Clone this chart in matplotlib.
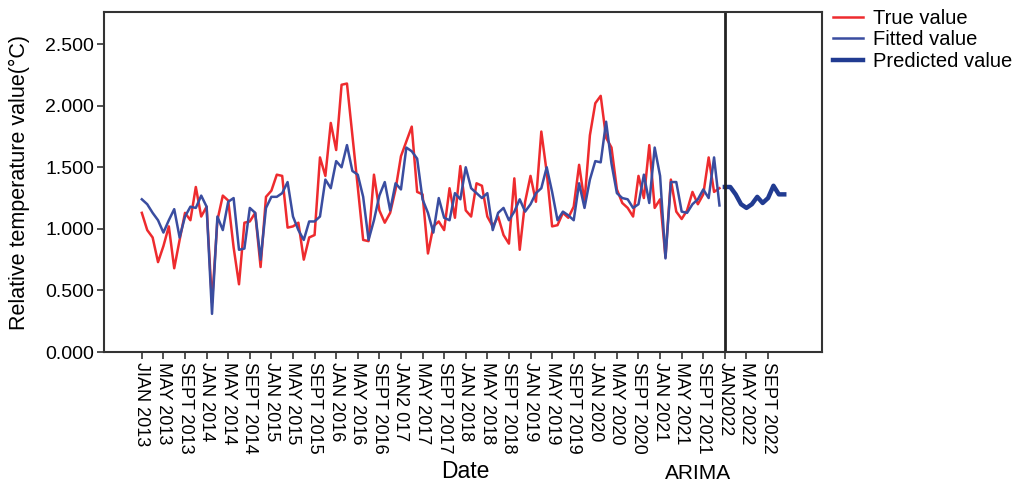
import numpy as np
import matplotlib
matplotlib.use("Agg")
import matplotlib.pyplot as plt

plt.rcParams['font.family'] = ['Liberation Sans', 'DejaVu Sans']

# monthly values, Jan 2013 .. Dec 2021
true_vals = [1.13, 0.99, 0.93, 0.73, 0.86, 1.02, 0.68, 0.91, 1.13, 1.07, 1.34, 1.10,
             1.18, 0.40, 1.07, 1.27, 1.23, 0.85, 0.55, 1.05, 1.06, 1.13, 0.69, 1.26,
             1.31, 1.44, 1.43, 1.01, 1.02, 1.05, 0.75, 0.93, 0.95, 1.58, 1.43, 1.86,
             1.64, 2.17, 2.18, 1.76, 1.34, 0.91, 0.90, 1.44, 1.15, 1.05, 1.13, 1.32,
             1.59, 1.71, 1.83, 1.30, 1.28, 0.80, 1.02, 1.06, 0.99, 1.33, 1.09, 1.51,
             1.15, 1.10, 1.37, 1.35, 1.10, 1.02, 1.10, 0.95, 0.88, 1.41, 0.83, 1.22,
             1.43, 1.22, 1.79, 1.46, 1.02, 1.03, 1.13, 1.09, 1.18, 1.52, 1.22, 1.76,
             2.02, 2.08, 1.74, 1.66, 1.32, 1.21, 1.17, 1.10, 1.43, 1.25, 1.68, 1.17,
             1.24, 0.77, 1.40, 1.14, 1.08, 1.15, 1.30, 1.20, 1.28, 1.58, 1.30, 1.33]

fitted_vals = [1.24, 1.20, 1.13, 1.07, 0.97, 1.07, 1.16, 0.93, 1.10, 1.18, 1.17, 1.27,
               1.18, 0.31, 1.10, 0.99, 1.22, 1.25, 0.83, 0.84, 1.17, 1.13, 0.75, 1.17,
               1.26, 1.26, 1.29, 1.38, 1.10, 0.99, 0.91, 1.06, 1.06, 1.10, 1.40, 1.33,
               1.55, 1.50, 1.68, 1.47, 1.44, 1.26, 0.91, 1.07, 1.27, 1.38, 1.15, 1.37,
               1.32, 1.66, 1.63, 1.57, 1.24, 1.13, 0.97, 1.25, 1.09, 1.07, 1.29, 1.24,
               1.50, 1.33, 1.29, 1.25, 1.29, 0.99, 1.13, 1.17, 1.07, 1.14, 1.24, 1.14,
               1.20, 1.29, 1.33, 1.50, 1.30, 1.07, 1.14, 1.11, 1.07, 1.37, 1.17, 1.40,
               1.55, 1.54, 1.87, 1.53, 1.29, 1.25, 1.24, 1.17, 1.20, 1.44, 1.21, 1.66,
               1.43, 0.76, 1.38, 1.38, 1.14, 1.13, 1.20, 1.24, 1.32, 1.25, 1.58, 1.19]

# ARIMA forecast, Jan 2022 .. Dec 2022
pred_vals = [1.34, 1.34, 1.28, 1.20, 1.17, 1.20, 1.26, 1.21, 1.25, 1.35, 1.28, 1.28]

tick_labels = ['JIAN 2013', 'MAY 2013', 'SEPT 2013', 'JAN 2014', 'MAY 2014', 'SEPT 2014',
               'JAN 2015', 'MAY 2015', 'SEPT 2015', 'JAN 2016', 'MAY 2016', 'SEPT 2016',
               'JAN2 017', 'MAY 2017', 'SEPT 2017', 'JAN 2018', 'MAY 2018', 'SEPT 2018',
               'JAN 2019', 'MAY 2019', 'SEPT 2019', 'JAN 2020', 'MAY 2020', 'SEPT 2020',
               'JAN 2021', 'MAY 2021', 'SEPT 2021', 'JAN2022', 'MAY 2022', 'SEPT 2022']

months_hist = np.arange(len(true_vals))
months_pred = np.arange(len(true_vals), len(true_vals) + len(pred_vals))

fig = plt.figure(figsize=(10.18, 4.84), dpi=100)
ax = fig.add_axes([0.1022, 0.2727, 0.7053, 0.7023])

ax.plot(months_hist, true_vals, color='#ee2b2e', lw=1.8, label='True value')
ax.plot(months_hist, fitted_vals, color='#3a4da0', lw=1.8, label='Fitted value')
ax.plot(months_pred, pred_vals, color='#213b91', lw=3.2, label='Predicted value')

ax.axvline(len(true_vals), color='#222222', lw=2.0)

ax.set_xlim(-7, 126)
ax.set_ylim(0, 2.76)
ax.set_yticks(np.arange(0, 2.51, 0.5))
ax.set_yticklabels(['%.3f' % v for v in np.arange(0, 2.51, 0.5)], fontsize=14)
ax.set_xticks(np.arange(0, 4 * len(tick_labels), 4))
ax.set_xticklabels(tick_labels, rotation=270, fontsize=13, ha='center', va='top')
ax.tick_params(direction='out', length=5, width=1.2, color='#333333', pad=2)

for s in ax.spines.values():
    s.set_linewidth(1.5)
    s.set_color('#333333')

ax.set_ylabel('Relative temperature value(°C)', fontsize=15.5)
ax.yaxis.set_label_coords(-0.103, 0.5)
fig.text(0.457, 0.002, 'Date', fontsize=16.5, ha='center', va='bottom')
fig.text(0.686, 0.002, 'ARIMA', fontsize=15, ha='center', va='bottom')

leg = fig.legend(loc='upper left', bbox_to_anchor=(833 / 1018, 1 - 9 / 484),
                 frameon=False, fontsize=14.5, handlelength=1.5, handletextpad=0.5,
                 labelspacing=0.12, borderpad=0, borderaxespad=0)

fig.savefig('out.png', dpi=100)
